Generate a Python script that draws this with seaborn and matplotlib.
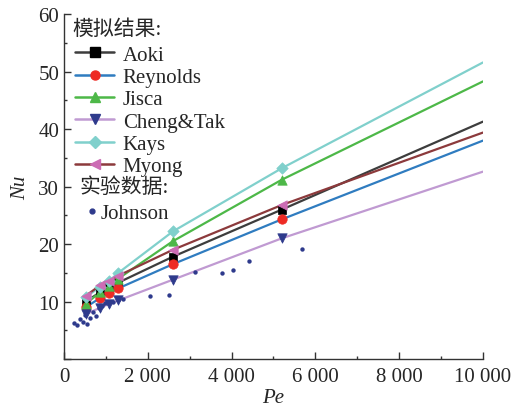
import numpy as np
import pandas as pd
import matplotlib
matplotlib.use("Agg")
import matplotlib.pyplot as plt
import seaborn as sns
from matplotlib.lines import Line2D
from matplotlib.ticker import FuncFormatter, MultipleLocator

# ---------------- data ----------------
pe_model = [520, 860, 1080, 1300, 2600, 5200, 10000]
nu_aoki = [10.0, 11.6, 12.5, 13.3, 17.8, 26.0, 41.3]
nu_reynolds = [9.0, 10.6, 11.5, 12.3, 16.5, 24.3, 38.0]
nu_jisca = [9.6, 11.6, 12.7, 14.0, 20.5, 31.2, 48.3]
nu_cheng = [7.8, 8.9, 9.6, 10.2, 13.8, 21.0, 32.6]
nu_kays = [10.8, 12.5, 13.6, 15.0, 22.2, 33.2, 51.6]
nu_myong = [11.0, 12.8, 13.5, 14.5, 19.0, 26.8, 39.4]

pe_johnson = [230, 300, 380, 450, 500, 560, 620, 700, 760, 830, 900, 980,
              1080, 1180, 1300, 1420, 2050, 2500, 3130, 3760, 4030, 4420, 5690]
nu_johnson = [6.3, 5.9, 7.0, 6.5, 7.6, 6.0, 7.2, 8.2, 7.4, 8.8, 9.3, 9.7,
              9.9, 10.0, 10.3, 10.5, 10.9, 11.2, 15.1, 15.0, 15.4, 17.0, 19.1]

series_names = ["Aoki", "Reynolds", "Jisca", "Cheng&Tak", "Kays", "Myong"]
series_values = [nu_aoki, nu_reynolds, nu_jisca, nu_cheng, nu_kays, nu_myong]
legend_title_sim = "模拟结果:"
legend_title_exp = "实验数据:"
exp_name = "Johnson"
x_label = "Pe"
y_label = "Nu"

# ---------------- style ----------------
line_colors = ["#3d3d3d", "#2f7cc0", "#4db848", "#c09ad2", "#80d0cc", "#8c3a3c"]
marker_colors = ["#000000", "#ee2a24", "#4db848", "#2e3a8c", "#80d0cc", "#cc6cb4"]
markers = ["s", "o", "^", "v", "D", "<"]
msizes = [38, 46, 46, 46, 34, 46]
johnson_color = "#2e3a8c"

sns.set_style("ticks")
plt.rcParams["font.family"] = ["Liberation Serif", "Noto Sans CJK SC"]

fig = plt.figure(figsize=(5.16, 4.10), dpi=100)
ax = fig.add_axes([0.124, 0.122, 0.812, 0.841])

for name, vals, lc, mc, mk, ms in zip(series_names, series_values, line_colors,
                                      marker_colors, markers, msizes):
    df = pd.DataFrame({"Pe": pe_model, "Nu": vals})
    sns.lineplot(data=df, x="Pe", y="Nu", ax=ax, color=lc, lw=1.6, zorder=2)
    sns.scatterplot(data=df.iloc[:-1], x="Pe", y="Nu", ax=ax, color=mc,
                    marker=mk, s=ms, edgecolor=mc, linewidth=0.5, zorder=3)

dfj = pd.DataFrame({"Pe": pe_johnson, "Nu": nu_johnson})
sns.scatterplot(data=dfj, x="Pe", y="Nu", ax=ax, color=johnson_color, s=10,
                edgecolor=johnson_color, linewidth=0, zorder=4)

ax.set_xlim(0, 10000)
ax.set_ylim(0, 60)
ax.xaxis.set_major_locator(MultipleLocator(2000))
ax.xaxis.set_minor_locator(MultipleLocator(1000))
ax.yaxis.set_major_locator(MultipleLocator(10))
ax.yaxis.set_minor_locator(MultipleLocator(5))
ax.xaxis.set_major_formatter(FuncFormatter(lambda v, p: f"{int(v):,}".replace(",", " ")))
ax.yaxis.set_major_formatter(FuncFormatter(lambda v, p: "" if v == 0 else f"{int(v)}"))
ax.tick_params(which="both", direction="in", labelsize=15, color="#333333",
               width=1.0)
ax.tick_params(which="major", length=5)
ax.tick_params(which="minor", length=2.5)
ax.tick_params(axis="x", pad=6)
for s in ["top", "right"]:
    ax.spines[s].set_visible(False)
for s in ["left", "bottom"]:
    ax.spines[s].set_color("#333333")
    ax.spines[s].set_linewidth(1.0)

ax.set_xlabel(x_label, fontsize=15, style="italic", labelpad=1)
ax.set_ylabel(y_label, fontsize=15, style="italic", labelpad=6)

# legend
handles = [Line2D([0], [0], color=lc, lw=1.8, marker=mk, markersize=6.5,
                  markerfacecolor=mc, markeredgecolor=mc)
           for lc, mc, mk in zip(line_colors, marker_colors, markers)]
leg1 = ax.legend(handles, series_names, loc="upper left",
                 bbox_to_anchor=(0.026, 0.910), frameon=False, fontsize=15,
                 handlelength=1.9, handletextpad=0.4, labelspacing=0.13,
                 borderaxespad=0.0, borderpad=0.0)
ax.add_artist(leg1)
hj = [Line2D([0], [0], ls="none", marker="o", markersize=3.5,
             markerfacecolor=johnson_color, markeredgecolor=johnson_color)]
ax.legend(hj, [exp_name], loc="upper left", bbox_to_anchor=(0.052, 0.450),
          frameon=False, fontsize=15, handlelength=0.6, handletextpad=0.1,
          borderaxespad=0.0, borderpad=0.0)
ax.text(0.019, 0.957, legend_title_sim, transform=ax.transAxes, fontsize=15,
        va="center", ha="left")
ax.text(0.036, 0.499, legend_title_exp, transform=ax.transAxes, fontsize=15,
        va="center", ha="left")

fig.savefig("out.png", dpi=100)
